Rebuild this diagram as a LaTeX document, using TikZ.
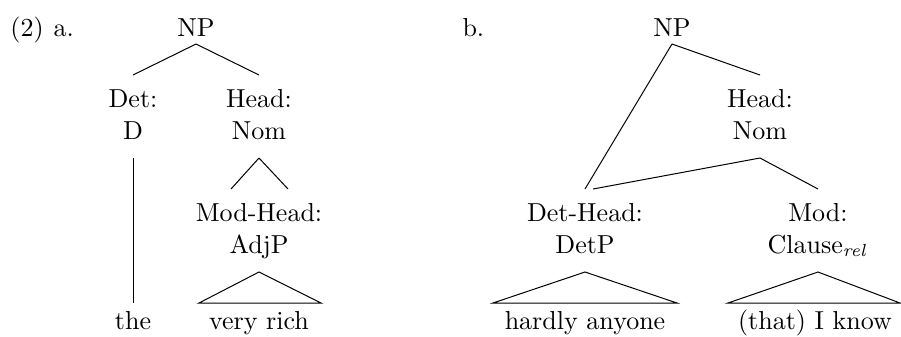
\documentclass[tikz,border=0pt]{standalone}
\usetikzlibrary{calc}
\begin{document}
\begin{tikzpicture}[x=0.4pt,y=-0.4pt,
  every node/.style={inner sep=0pt, font=\fontsize{10.4}{12.5}\selectfont},
  lbl/.style={anchor=base},
  tag/.style={anchor=base west},
  ln/.style={line width=0.4pt}]
\useasboundingbox (0,0) rectangle (901,336);
% labels
\node[tag] (n2) at (10,36) {(2)};
\node[tag] (la) at (53,36) {a.};
\node[tag] (lb) at (462,36) {b.};
% tree a
\node[lbl] (np1) at (196,36) {NP};
\node[lbl] (det1) at (133,107) {Det:};
\node[lbl] (d1) at (133,139) {D};
\node[lbl] (head1) at (259,107) {Head:};
\node[lbl] (nom1) at (259,139) {Nom};
\node[lbl] (mh1) at (259,221) {Mod-Head:};
\node[lbl] (adjp1) at (259,253) {AdjP};
\node[lbl] (the) at (133,329) {the};
\node[lbl] (vr) at (259,329) {very rich};
\draw[ln] ($(np1.base)+(0,8)$) -- ($(det1.base)+(0,-32)$);
\draw[ln] ($(np1.base)+(0,8)$) -- ($(head1.base)+(0,-32)$);
\draw[ln] ($(d1.base)+(0,19)$) -- ($(the.base)+(0,-26)$);
\draw[ln] ($(nom1.base)+(0,19)$) -- ($(mh1.base)+(-28,-32)$);
\draw[ln] ($(nom1.base)+(0,19)$) -- ($(mh1.base)+(29,-32)$);
\draw[ln] ($(adjp1.base)+(0,19)$) -- ($(vr.base)+(-60,-26)$) -- ($(vr.base)+(62,-26)$) -- cycle;
% tree b
\node[lbl] (np2) at (672,36) {NP};
\node[lbl] (head2) at (760,107) {Head:};
\node[lbl] (nom2) at (760,139) {Nom};
\node[lbl] (dh2) at (585,221) {Det-Head:};
\node[lbl] (detp2) at (585,253) {DetP};
\node[lbl] (mod2) at (818,221) {Mod:};
\node[lbl] (cl2) at (818,253) {Clause$_{\mathit{rel}}$};
\node[lbl] (ha) at (585,329) {hardly anyone};
\node[lbl] (tik) at (815,329) {(that) I know};
\draw[ln] ($(np2.base)+(0,8)$) -- ($(head2.base)+(0,-32)$);
\draw[ln] ($(np2.base)+(0,8)$) -- ($(dh2.base)+(0,-32)$);
\draw[ln] ($(nom2.base)+(0,19)$) -- ($(dh2.base)+(8,-32)$);
\draw[ln] ($(nom2.base)+(0,19)$) -- ($(mod2.base)+(0,-32)$);
\draw[ln] ($(detp2.base)+(0,19)$) -- ($(ha.base)+(-92,-26)$) -- ($(ha.base)+(92,-26)$) -- cycle;
\draw[ln] ($(cl2.base)+(0,19)$) -- ($(tik.base)+(-87,-26)$) -- ($(tik.base)+(85,-26)$) -- cycle;
\end{tikzpicture}
\end{document}
